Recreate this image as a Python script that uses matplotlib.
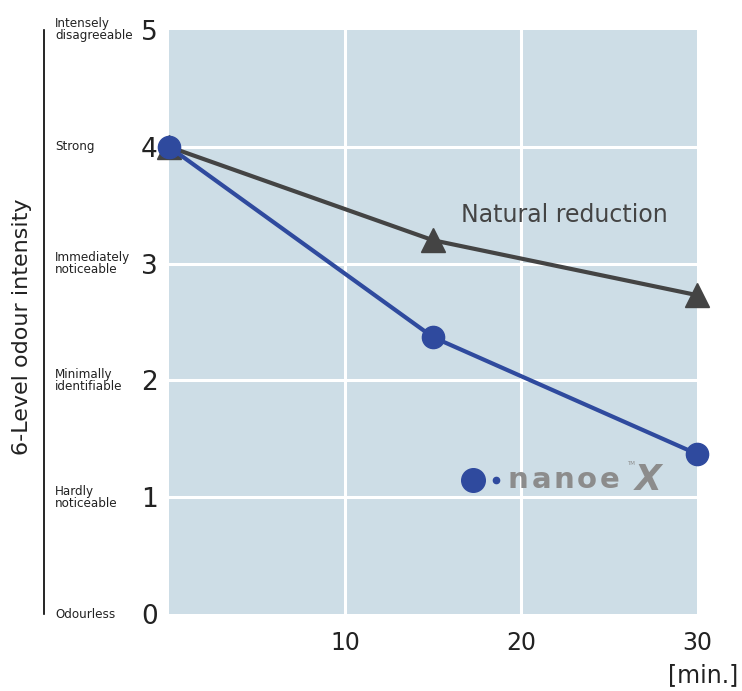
import numpy as np
import matplotlib.pyplot as plt
from matplotlib.lines import Line2D

plt.rcParams['font.family'] = ['DejaVu Sans']

minutes = [0, 15, 30]
nanoe_x = [4.0, 2.37, 1.37]
natural = [4.0, 3.2, 2.73]

levels = [0, 1, 2, 3, 4, 5]
level_names = ['Odourless', 'Hardly\nnoticeable', 'Minimally\nidentifiable',
               'Immediately\nnoticeable', 'Strong', 'Intensely\ndisagreeable']
x_ticks = [10, 20, 30]
logo_letters = ['n', 'a', 'n', 'o', 'e']

blue = '#2f4a9e'
dark = '#444444'
bg = '#cddde6'
logo_grey = '#8c8c8c'

fig = plt.figure(figsize=(7.42, 6.91), dpi=100)
ax = fig.add_axes([169/742, 77/691, 528/742, 584/691])
ax.set_facecolor(bg)
ax.set_xlim(0, 30)
ax.set_ylim(0, 5)
for s in ax.spines.values():
    s.set_visible(False)

for y in [1, 2, 3, 4]:
    ax.axhline(y, color='white', lw=2.2, zorder=1)
for x in [10, 20]:
    ax.axvline(x, color='white', lw=2.2, zorder=1)

ax.plot(minutes, natural, color=dark, lw=3, marker='^', ms=17, zorder=3, clip_on=False)
ax.plot(minutes, nanoe_x, color=blue, lw=3, marker='o', ms=16, zorder=4, clip_on=False)

ax.text(16.6, 3.42, 'Natural reduction', fontsize=17, color=dark, va='center', ha='left')

# nanoeX logo
ax.plot([17.3], [1.145], marker='o', ms=17, color=blue, zorder=5)
ax.plot([18.6], [1.145], marker='o', ms=4.5, color=blue, zorder=5)
for i, ch in enumerate(logo_letters):
    ax.text(19.85 + i*1.3, 1.145, ch, fontsize=21, fontweight='bold', color=logo_grey,
            va='center', ha='center', zorder=5)
ax.text(27.25, 1.15, 'X', fontsize=25, fontweight='bold', fontstyle='italic',
        color=logo_grey, va='center', ha='center', zorder=5)
ax.text(26.05, 1.29, 'TM', fontsize=4, color=logo_grey, va='center', ha='left')

ax.set_xticks(x_ticks)
ax.set_xticklabels([str(t) for t in x_ticks], fontsize=17, color='#222222')
ax.set_yticks(levels)
ax.set_yticklabels([str(t) for t in levels], fontsize=19, color='#222222')
ax.tick_params(length=0)
ax.tick_params(axis='x', pad=12)
ax.tick_params(axis='y', pad=8)

for lv, name in zip(levels, level_names):
    fig.text(55/742, (77 + lv*584/5)/691, name, fontsize=9.5, fontstretch='condensed',
             color='#222222', va='center', ha='left', linespacing=0.9)

fig.add_artist(Line2D([44/742, 44/742], [77/691, 661/691], color='black', lw=1.2))
fig.text(22/742, 364/691, '6-Level odour intensity', rotation=90, fontsize=16,
         color='#222222', va='center', ha='center')
fig.text(738/742, 16/691, '[min.]', fontsize=17, color='#222222', ha='right', va='center')

fig.savefig('out.png', dpi=100)
